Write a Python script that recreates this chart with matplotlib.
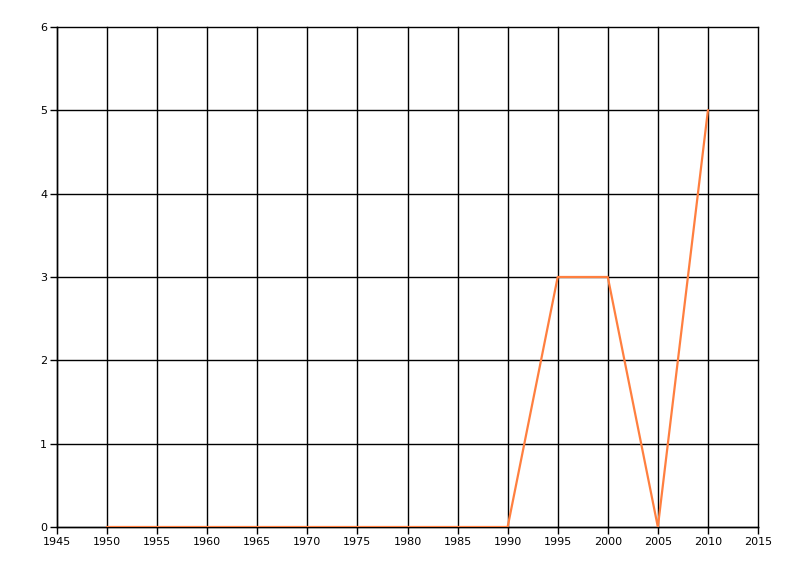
import matplotlib
matplotlib.use("Agg")
import matplotlib.pyplot as plt

years = [1950, 1955, 1960, 1965, 1970, 1975, 1980, 1985, 1990, 1995, 2000, 2005, 2010]
counts = [0, 0, 0, 0, 0, 0, 0, 0, 0, 3, 3, 0, 5]
x_ticks = list(range(1945, 2016, 5))
y_ticks = [0, 1, 2, 3, 4, 5, 6]

fig = plt.figure(figsize=(8, 5.76), dpi=100)
ax = fig.add_axes([57 / 800, 49 / 576, 701 / 800, 500 / 576])

ax.plot(years, counts, color="#FF7F3F", linewidth=1.6, zorder=3)

ax.set_xlim(1945, 2015)
ax.set_ylim(0, 6)
ax.set_xticks(x_ticks)
ax.set_yticks(y_ticks)
ax.grid(True, color="black", linewidth=1)
for line in ax.get_xgridlines() + ax.get_ygridlines():
    line.set_clip_on(False)

for side in ["top", "right"]:
    ax.spines[side].set_visible(False)
for side in ["left", "bottom"]:
    ax.spines[side].set_linewidth(1)

ax.tick_params(axis="both", labelsize=8, length=5, width=1, pad=2, colors="black")

fig.savefig("out.png", dpi=100)
